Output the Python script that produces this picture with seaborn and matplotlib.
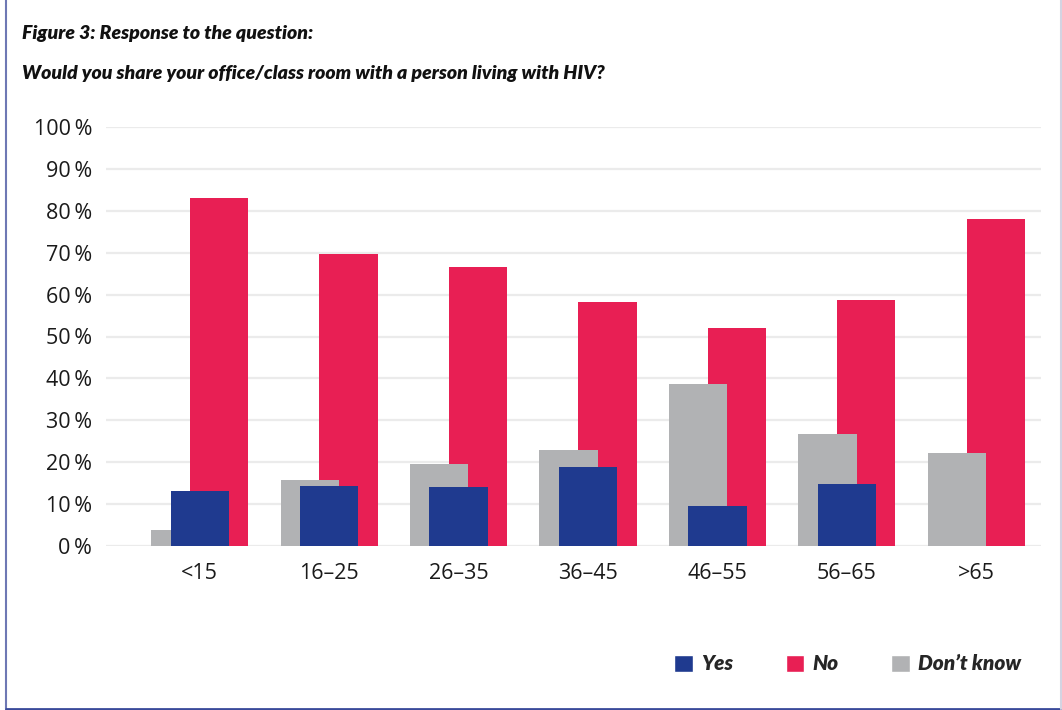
import numpy as np
import pandas as pd
import matplotlib
matplotlib.use("Agg")
import matplotlib.pyplot as plt
from matplotlib.patches import Patch
from matplotlib.lines import Line2D
import seaborn as sns

categories = ["<15", "16–25", "26–35", "36–45", "46–55", "56–65", ">65"]
yes_vals = [13.1, 14.3, 14.1, 18.9, 9.5, 14.8, 0.0]
no_vals = [83.0, 69.7, 66.6, 58.2, 52.0, 58.7, 78.0]
dontknow_vals = [3.9, 15.8, 19.6, 22.9, 38.7, 26.7, 22.2]
y_ticks = [0, 10, 20, 30, 40, 50, 60, 70, 80, 90, 100]

C_YES = "#1f3a8f"
C_NO = "#e81f54"
C_DK = "#b1b2b4"

sns.set_theme(style="white")
plt.rcParams["font.family"] = ["Open Sans", "DejaVu Sans"]

title_font = ["Lato", "DejaVu Sans"]

fig = plt.figure(figsize=(10.62, 7.10), dpi=100)
ax = fig.add_axes([106 / 1062, 1 - 546 / 710, (1041 - 106) / 1062, (546 - 127) / 710])

idx = np.arange(len(categories))
width = 0.45
series = [
    ("No", no_vals, C_NO, 0.15),
    ("Don't know", dontknow_vals, C_DK, -0.15),
    ("Yes", yes_vals, C_YES, 0.0),
]
for name, vals, col, off in series:
    df = pd.DataFrame({"x": idx + off, "y": vals})
    sns.barplot(data=df, x="x", y="y", native_scale=True, width=width,
                color=col, saturation=1, errorbar=None, ax=ax, linewidth=0)

ax.set_xlim(-0.724, 6.5)
ax.set_ylim(0, 100)
ax.set_axisbelow(True)
ax.set_yticks(y_ticks)
ax.set_yticklabels([f"{t}\u2009%" for t in y_ticks], fontsize=15.5, color="#1a1a1a")
ax.set_xticks(idx)
ax.set_xticklabels(categories, fontsize=15.5, color="#1a1a1a")
ax.tick_params(axis="both", length=0)
ax.tick_params(axis="y", pad=10)
ax.tick_params(axis="x", pad=12)
ax.yaxis.grid(True, color="#ebebeb", linewidth=1.6)
ax.xaxis.grid(False)
for s in ax.spines.values():
    s.set_visible(False)
ax.set_xlabel("")
ax.set_ylabel("")

fig.text(22 / 1062, 1 - 39 / 710, "Figure 3: Response to the question:",
         family=title_font, fontweight="heavy", fontstyle="italic", fontsize=14,
         va="baseline", ha="left", color="#111111")
fig.text(22 / 1062, 1 - 79 / 710,
         "Would you share your office/class room with a person living with HIV?",
         family=title_font, fontweight="heavy", fontstyle="italic", fontsize=14,
         va="baseline", ha="left", color="#111111")

handles = [Patch(facecolor=C_YES, label="Yes"),
           Patch(facecolor=C_NO, label="No"),
           Patch(facecolor=C_DK, label="Don\u2019t know")]
leg = fig.legend(handles=handles, loc="center right", ncol=3,
                 bbox_to_anchor=(1021 / 1062, 1 - 664 / 710), frameon=False,
                 prop={"family": title_font, "weight": "heavy", "style": "italic", "size": 15},
                 handlelength=0.9, handleheight=0.85, handletextpad=0.4,
                 columnspacing=2.5, borderaxespad=0, borderpad=0)

fig.add_artist(Line2D([5.5 / 1062, 5.5 / 1062], [1.5 / 710, 1], color="#6e78b4", lw=1.5,
                      transform=fig.transFigure))
fig.add_artist(Line2D([5.5 / 1062, 1061 / 1062], [1.5 / 710, 1.5 / 710], color="#3a4a9a", lw=2,
                      transform=fig.transFigure))
fig.add_artist(Line2D([1061 / 1062, 1061 / 1062], [1.5 / 710, 1], color="#d4d4e2", lw=1.5,
                      transform=fig.transFigure))

fig.savefig("out.png", dpi=100)
